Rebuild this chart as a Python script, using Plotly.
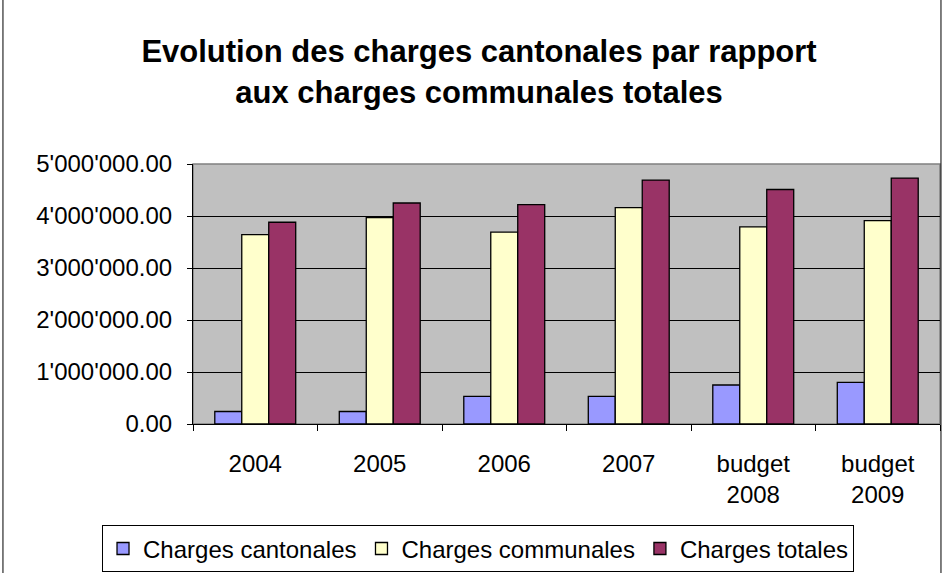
import plotly.graph_objects as go

categories = ["2004", "2005", "2006", "2007", "budget<br>2008", "budget<br>2009"]
cantonales = [240000, 240000, 530000, 530000, 750000, 800000]
communales = [3640000, 3970000, 3690000, 4160000, 3790000, 3910000]
totales = [3880000, 4250000, 4220000, 4690000, 4510000, 4730000]
tick_vals = [0, 1000000, 2000000, 3000000, 4000000, 5000000]
tick_text = ["0.00", "1'000'000.00", "2'000'000.00", "3'000'000.00", "4'000'000.00", "5'000'000.00"]

font = "Liberation Sans, Arial, sans-serif"
fig = go.Figure()
for name, vals, col in [
    ("Charges cantonales", cantonales, "#9999FF"),
    ("Charges communales", communales, "#FFFFCC"),
    ("Charges totales", totales, "#993366"),
]:
    fig.add_trace(go.Bar(x=categories, y=vals, name=name, marker=dict(color=col, line=dict(color="black", width=1.3))))

fig.update_layout(
    width=943, height=573,
    margin=dict(l=193, r=3, t=164, b=149, autoexpand=False),
    paper_bgcolor="white", plot_bgcolor="#C0C0C0",
    barmode="group", bargap=0.35, bargroupgap=0,
    font=dict(family=font, size=24, color="black"),
    title=dict(text="<b>Evolution des charges cantonales par rapport<br>aux charges communales totales</b>",
               x=0.508, xref="container", xanchor="center", y=0.891, yref="container", yanchor="middle",
               font=dict(size=31, family=font)),
    showlegend=True,
    legend=dict(orientation="h", x=-0.1218, xanchor="left", y=-0.39, yanchor="top",
                bordercolor="black", borderwidth=1, bgcolor="white",
                font=dict(size=24), itemwidth=30, tracegroupgap=0),
    shapes=[
        dict(type="rect", xref="paper", yref="paper", x0=0, x1=1, y0=0, y1=1,
             line=dict(color="#808080", width=1.5), layer="below"),
        dict(type="line", xref="paper", yref="paper", x0=-0.2544, x1=-0.2544, y0=-0.6, y1=1.642,
             line=dict(color="black", width=1)),
        dict(type="line", xref="paper", yref="paper", x0=-0.2544, x1=1.0013, y0=1.642, y1=1.642,
             line=dict(color="black", width=1)),
        dict(type="line", xref="paper", yref="paper", x0=1.0013, x1=1.0013, y0=-0.6, y1=1.642,
             line=dict(color="black", width=1)),
    ],
)
fig.update_xaxes(showline=True, linecolor="black", linewidth=1, ticks="outside", tickson="boundaries",
                 ticklen=6, tickcolor="black", showgrid=False, tickfont=dict(size=24),
                 ticklabelstandoff=18, automargin=False)
fig.update_yaxes(range=[0, 5000000], tickvals=tick_vals, ticktext=tick_text, showline=True,
                 linecolor="black", linewidth=1, ticks="outside", ticklen=5, tickcolor="black",
                 showgrid=True, gridcolor="black", gridwidth=1, zeroline=False, tickfont=dict(size=24),
                 ticklabelstandoff=10, automargin=False)
fig.write_html("out.html", config={"displayModeBar": False},
               post_script="document.body.style.margin='0px';")
